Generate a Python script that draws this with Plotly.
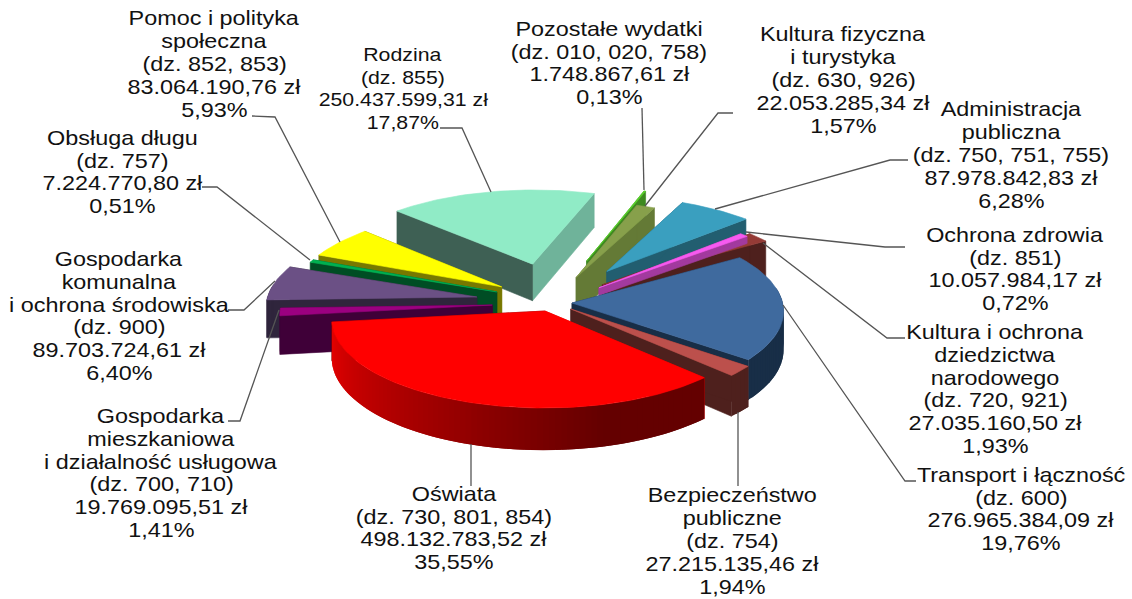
import math
import plotly.graph_objects as go

# ---------- data ----------
NAMES = ["Oświata", "Bezpieczeństwo publiczne", "Transport i łączność",
         "Kultura i ochrona dziedzictwa narodowego", "Ochrona zdrowia",
         "Administracja publiczna", "Kultura fizyczna i turystyka",
         "Pozostałe wydatki", "Rodzina", "Pomoc i polityka społeczna",
         "Obsługa długu", "Gospodarka komunalna i ochrona środowiska",
         "Gospodarka mieszkaniowa i działalność usługowa"]
PERCENT = [35.55, 1.94, 19.76, 1.93, 0.72, 6.28, 1.57, 0.13, 17.87, 5.93, 0.51, 6.40, 1.41]
LABELS = [
    "Oświata<br>(dz. 730, 801, 854)<br>498.132.783,52 zł<br>35,55%",
    "Bezpieczeństwo<br>publiczne<br>(dz. 754)<br>27.215.135,46 zł<br>1,94%",
    "Transport i łączność<br>(dz. 600)<br>276.965.384,09 zł<br>19,76%",
    "Kultura i ochrona<br>dziedzictwa<br>narodowego<br>(dz. 720, 921)<br>27.035.160,50 zł<br>1,93%",
    "Ochrona zdrowia<br>(dz. 851)<br>10.057.984,17 zł<br>0,72%",
    "Administracja<br>publiczna<br>(dz. 750, 751, 755)<br>87.978.842,83 zł<br>6,28%",
    "Kultura fizyczna<br>i turystyka<br>(dz. 630, 926)<br>22.053.285,34 zł<br>1,57%",
    "Pozostałe wydatki<br>(dz. 010, 020, 758)<br>1.748.867,61 zł<br>0,13%",
    "Rodzina<br>(dz. 855)<br>250.437.599,31 zł<br>17,87%",
    "Pomoc i polityka<br>społeczna<br>(dz. 852, 853)<br>83.064.190,76 zł<br>5,93%",
    "Obsługa długu<br>(dz. 757)<br>7.224.770,80 zł<br>0,51%",
    "Gospodarka<br>komunalna<br>i ochrona środowiska<br>(dz. 900)<br>89.703.724,61 zł<br>6,40%",
    "Gospodarka<br>mieszkaniowa<br>i działalność usługowa<br>(dz. 700, 710)<br>19.769.095,51 zł<br>1,41%",
]

# ---------- styling / layout ----------
LABEL_POS = [(454, 528), (732, 541), (1021, 509), (995, 389), (1015, 269), (1011, 155),
             (843, 80), (609, 63), (403, 89), (214, 64), (122, 172), (119, 316), (161, 473)]
LABEL_SIZE = [20, 20, 20, 20, 20, 20, 20, 20, 18.2, 20, 20, 20, 20]
LINE_STEP = 22.8
TOP = ["#FF0000", "#BC504C", "#3F6A9E", "#953B36", "#F65AF0", "#3A9FBF", "#87A04B",
       "#5BD52B", "#90EBC6", "#FFFF00", "#00B050", "#6B5085", "#9B0080"]
# wall on the start-angle side, wall on the end-angle side
WALL_A = ["#640000", "#4E201D", "#182E47", "#4E201D", "#A23A9E", "#225E70", "#647A36",
          "#3E8A20", "#6FB39A", "#787800", "#004D24", "#2F253C", "#3F0038"]
WALL_B = ["#E00000", "#4E201D", "#182E47", "#4E201D", "#A23A9E", "#225E70", "#647A36",
          "#3E8A20", "#3E6054", "#787800", "#004D24", "#2F253C", "#3F0038"]
OUTER_FROM = ["#E60000", "#4E201D", "#182E47", "#4E201D", "#A23A9E", "#225E70", "#647A36",
              "#3E8A20", "#6FB39A", "#787800", "#004D24", "#2F253C", "#3F0038"]
OUTER_TO = ["#640000", "#4E201D", "#182E47", "#4E201D", "#A23A9E", "#225E70", "#647A36",
            "#3E8A20", "#6FB39A", "#787800", "#004D24", "#2F253C", "#3F0038"]
# explosion of every slice, in ground-plane units (like a pie "pull")
PULL_X = [-.052, .070, .076, .224, .207, .249, .098, .152, -.116, -.262, -.284, -.378, -.302]
PULL_Y = [-.126, -.103, -.035, .178, .143, .340, .265, .469, .430, .154, .094, .035, -.058]
# share of the full extrusion shown for a slice (the thin pink slice lies on its neighbour)
WALL_SHARE = [1, 1, 1, 1, .2, 1, 1, 1, 1, 1, 1, 1, 1]
PAINT_ORDER = [8, 7, 6, 5, 3, 4, 9, 10, 11, 12, 2, 1, 0]
LEADERS = [
    [(471, 444), (471, 486)],
    [(738, 412), (738, 486)],
    [(783, 305), (905, 481), (916, 481)],
    [(763, 243), (887, 338), (905, 338)],
    [(746, 232), (885, 247), (905, 247)],
    [(715, 209), (890, 160), (908, 160)],
    [(645, 206), (718, 113), (733, 113)],
    [(644, 190), (642, 108)],
    [(491, 192), (462, 128), (440, 128)],
    [(340, 242), (275, 117), (252, 116)],
    [(310, 260), (217, 187), (202, 187)],
    [(275, 281), (244, 310), (228, 310)],
    [(279, 310), (240, 421), (228, 421)],
]
START_ANGLE = 187.0
CX, CY, R, K, P, DEPTH = 556.0, 300.0, 210.0, 0.412, 0.087, 38.0


def project(x, y, z=0.0):
    s = 1.0 / (1.0 + P * y)
    return CX + R * x * s, CY - R * K * y * s + DEPTH * s * z


def mix(c1, c2, t):
    a = [int(c1[i:i + 2], 16) for i in (1, 3, 5)]
    b = [int(c2[i:i + 2], 16) for i in (1, 3, 5)]
    return "#%02X%02X%02X" % tuple(round(u + (v - u) * t) for u, v in zip(a, b))


def poly(fig, pts, color, width=0.6):
    fig.add_trace(go.Scatter(x=[p[0] for p in pts] + [pts[0][0]], y=[p[1] for p in pts] + [pts[0][1]],
                             mode="lines", fill="toself", fillcolor=color,
                             line=dict(color=color, width=width), hoverinfo="skip", showlegend=False))


total = sum(PERCENT)
starts, a = [], START_ANGLE
for v in PERCENT:
    starts.append(a)
    a += v / total * 360.0

fig = go.Figure()
for i in PAINT_ORDER:
    a0 = math.radians(starts[i])
    a1 = a0 + math.radians(PERCENT[i] / total * 360.0)
    n = max(3, int((a1 - a0) / math.radians(1.5)))
    ang = [a0 + (a1 - a0) * j / n for j in range(n + 1)]
    ox, oy = PULL_X[i], PULL_Y[i]
    h = WALL_SHARE[i]
    rim = [(ox + math.cos(t), oy + math.sin(t)) for t in ang]
    for (gx, gy), col in (((rim[0]), WALL_A[i]), ((rim[-1]), WALL_B[i])):
        poly(fig, [project(ox, oy), project(gx, gy), project(gx, gy, h), project(ox, oy, h)], col)
    # outer wall: strips painted left to right, each reaching under the next
    for j in range(n):
        if math.sin(ang[j]) < 0.15 or math.sin(ang[j + 1]) < 0.15:
            p, q = rim[j], rim[min(j + 2, n)]
            poly(fig, [project(*p), project(*q), project(*q, h), project(*p, h)],
                 mix(OUTER_FROM[i], OUTER_TO[i], min(1.0, 1.3 * j / max(1, n - 1))), width=0)
    poly(fig, [project(ox, oy)] + [project(*p) for p in rim], TOP[i])

for pts in LEADERS:
    fig.add_trace(go.Scatter(x=[p[0] for p in pts], y=[p[1] for p in pts], mode="lines",
                             line=dict(color="#555555", width=1.3), hoverinfo="skip", showlegend=False))

annotations = []
for t, (x, y), fs in zip(LABELS, LABEL_POS, LABEL_SIZE):
    rows = t.split("<br>")
    for j, row in enumerate(rows):
        annotations.append(dict(x=x, y=y + (j - (len(rows) - 1) / 2) * LINE_STEP, text=row, showarrow=False,
                                xanchor="center", yanchor="middle", align="center",
                                font=dict(family="Liberation Sans", size=fs, color="#111111")))

fig.update_layout(width=1132, height=599, margin=dict(l=0, r=0, t=0, b=0),
                  paper_bgcolor="white", plot_bgcolor="white", showlegend=False, annotations=annotations,
                  xaxis=dict(range=[0, 1132], visible=False, fixedrange=True),
                  yaxis=dict(range=[599, 0], visible=False, fixedrange=True))
# the reference's lettering is horizontally stretched
POST = """
document.body.style.margin='0';document.body.style.overflow='hidden';
var st=document.createElement('style');
st.textContent='text.annotation-text{transform-box:fill-box;transform-origin:center;transform:scaleX(1.17);}';
document.head.appendChild(st);
"""
fig.write_html("out.html", post_script=POST, config=dict(displayModeBar=False))
